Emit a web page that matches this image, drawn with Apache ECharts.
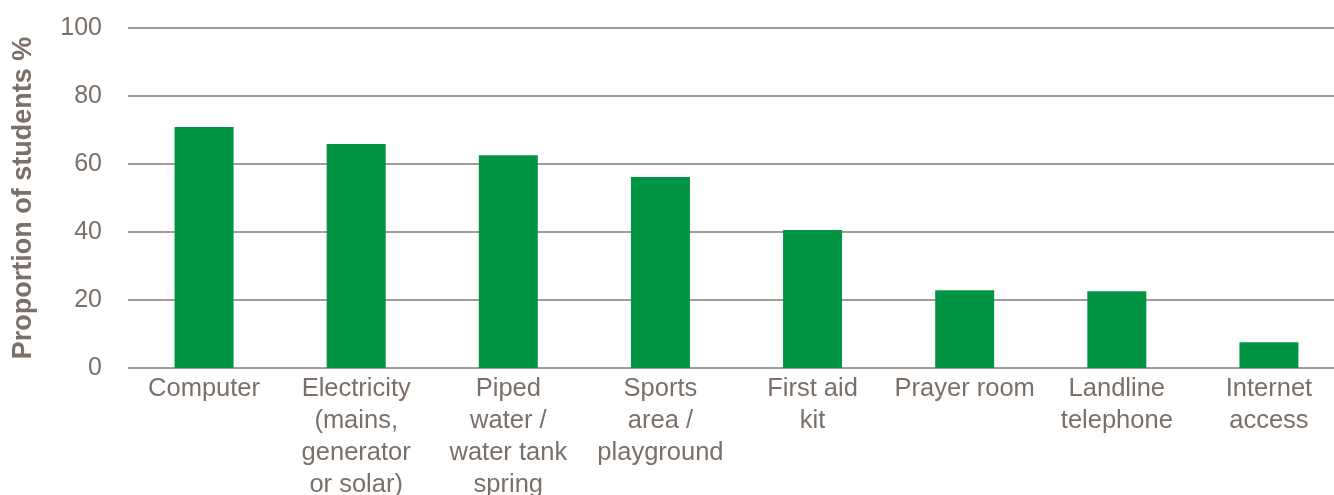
<!DOCTYPE html>
<html>
<head>
<meta charset="utf-8">
<script src="https://cdn.jsdelivr.net/npm/echarts@6/dist/echarts.min.js"></script>
<style>html,body{margin:0;padding:0;background:#fff;}#c{width:1334px;height:495px;}</style>
</head>
<body>
<div id="c"></div>
<script>
const categories = ["Computer", "Electricity\n(mains,\ngenerator\nor solar)", "Piped\nwater /\nwater tank\nspring", "Sports\narea /\nplayground", "First aid\nkit", "Prayer room", "Landline\ntelephone", "Internet\naccess"];
const values = [70.9, 65.9, 62.6, 56.2, 40.6, 22.9, 22.6, 7.6];
const yTicks = [0, 20, 40, 60, 80, 100];
const textColor = '#7b6f68';
const chart = echarts.init(document.getElementById('c'));
chart.setOption({
  animation: false,
  grid: { left: 128, right: -11, top: 28, bottom: 127, outerBoundsMode: 'none', containLabel: false },
  xAxis: {
    type: 'category',
    data: categories,
    axisLine: { show: false },
    axisTick: { show: false },
    axisLabel: { color: textColor, fontSize: 25.5, lineHeight: 32, margin: 5, interval: 0, fontFamily: 'Liberation Sans' }
  },
  yAxis: {
    type: 'value',
    min: yTicks[0], max: yTicks[yTicks.length - 1], interval: 20,
    name: 'Proportion of students %',
    nameLocation: 'middle',
    nameGap: 91,
    nameTextStyle: { color: textColor, fontSize: 27, fontWeight: 'bold', fontFamily: 'Liberation Sans' },
    axisLine: { show: false },
    axisTick: { show: false },
    axisLabel: { color: textColor, fontSize: 25, margin: 26, fontFamily: 'Liberation Sans' },
    splitLine: { lineStyle: { color: '#857a73', width: 1.5 } }
  },
  series: [{
    type: 'bar',
    data: values,
    barWidth: 59,
    itemStyle: { color: '#009444' }
  }]
});
</script>
</body>
</html>
